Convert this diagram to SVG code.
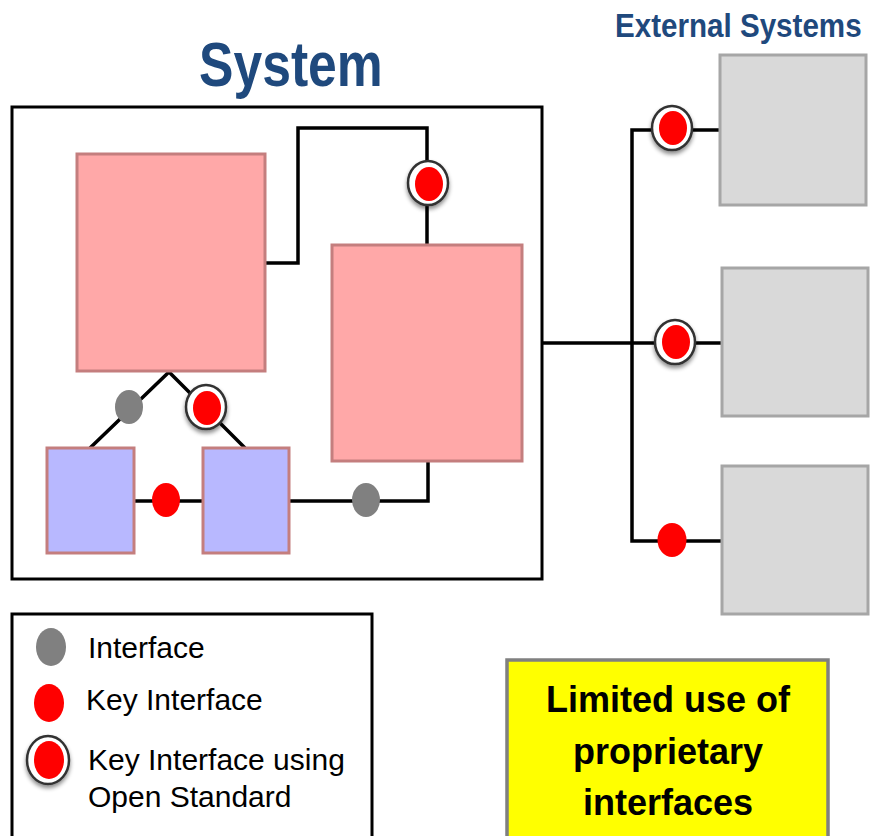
<svg xmlns="http://www.w3.org/2000/svg" width="871" height="836" viewBox="0 0 871 836">
<style>
.pink{fill:#FFA8A8;stroke:#C47E7E;stroke-width:3}
.blue{fill:#B8B8FF;stroke:#C47E7E;stroke-width:3}
.ext{fill:#D9D9D9;stroke:#A6A6A6;stroke-width:3}
.ln{fill:none;stroke:#000;stroke-width:3.5}
.gray{fill:#808080}
.red{fill:#FF0000}
.ring{fill:#FFFFFF;stroke:#333;stroke-width:2.5;filter:url(#sh)}
.title{font-family:"Liberation Sans",Arial,sans-serif;font-weight:bold;fill:#1F497D}
.leg{font-family:"Liberation Sans",Arial,sans-serif;font-size:30px;fill:#000}
.note{font-family:"Liberation Sans",Arial,sans-serif;font-weight:bold;font-size:36px;fill:#000;text-anchor:middle}
</style>
<defs>
<filter id="sh" x="-50%" y="-50%" width="200%" height="200%">
<feDropShadow dx="0" dy="3" stdDeviation="2" flood-color="#000" flood-opacity="0.45"/>
</filter>
</defs>
<text class="title" transform="translate(199,86) scale(0.82,1)" font-size="63">System</text>
<text class="title" transform="translate(615,37) scale(0.87,1)" font-size="34">External Systems</text>
<g id="system">
<rect x="12" y="107" width="530" height="472" fill="#FFFFFF" stroke="#000" stroke-width="3"/>
</g>
<g id="connectors">
<polyline class="ln" points="265,263 298,263 298,128 427,128 427,245"/>
<polyline class="ln" points="90,448 169,372 245,448"/>
<line class="ln" x1="134" y1="501" x2="203" y2="501"/>
<polyline class="ln" points="288,501 428,501 428,461"/>
<line class="ln" x1="542" y1="343" x2="721" y2="343"/>
<polyline class="ln" points="720,130 632,130 632,541 721,541"/>
</g>
<g id="pink1"><rect class="pink" x="77" y="154" width="188" height="217"/></g>
<g id="pink2"><rect class="pink" x="332" y="245" width="190" height="216"/></g>
<g id="blue1"><rect class="blue" x="47" y="448" width="87" height="105"/></g>
<g id="blue2"><rect class="blue" x="203" y="448" width="86" height="105"/></g>
<g id="ext1"><rect class="ext" x="720" y="55" width="146" height="150"/></g>
<g id="ext2"><rect class="ext" x="722" y="268" width="146" height="148"/></g>
<g id="ext3"><rect class="ext" x="722" y="466" width="146" height="148"/></g>
<g id="if-open-top"><ellipse class="ring" cx="428" cy="183" rx="20" ry="22"/><ellipse class="red" cx="429" cy="184" rx="14" ry="17"/></g>
<g id="if-gray-left"><ellipse class="gray" cx="129" cy="407" rx="14" ry="17"/></g>
<g id="if-open-right"><ellipse class="ring" cx="206" cy="407" rx="20" ry="22"/><ellipse class="red" cx="207" cy="408" rx="14" ry="17"/></g>
<g id="if-red-blue"><ellipse class="red" cx="166" cy="500" rx="14" ry="17"/></g>
<g id="if-gray-bottom"><ellipse class="gray" cx="366" cy="500" rx="14" ry="17"/></g>
<g id="if-ext1"><ellipse class="ring" cx="672" cy="128" rx="20" ry="22"/><ellipse class="red" cx="673" cy="128" rx="14" ry="17"/></g>
<g id="if-ext2"><ellipse class="ring" cx="675" cy="342" rx="20" ry="22"/><ellipse class="red" cx="676" cy="342" rx="14" ry="17"/></g>
<g id="if-ext3"><ellipse class="red" cx="672" cy="540" rx="14.5" ry="17"/></g>
<g id="legend">
<rect x="12" y="614" width="360" height="240" fill="#FFFFFF" stroke="#000" stroke-width="3"/>
<ellipse class="gray" cx="51" cy="647" rx="15" ry="19"/>
<text class="leg" x="88" y="658">Interface</text>
<ellipse class="red" cx="49" cy="703" rx="15" ry="19"/>
<text class="leg" x="86" y="710">Key Interface</text>
<ellipse class="ring" cx="48" cy="760" rx="21" ry="24"/>
<ellipse class="red" cx="49" cy="760" rx="15" ry="19"/>
<text class="leg" x="88" y="770">Key Interface using</text>
<text class="leg" x="88" y="807">Open Standard</text>
</g>
<g id="note">
<rect x="507" y="660" width="321" height="200" fill="#FFFF00" stroke="#808080" stroke-width="3.5"/>
<text class="note" x="668" y="712">Limited use of</text>
<text class="note" x="668" y="764">proprietary</text>
<text class="note" x="668" y="815">interfaces</text>
</g>
</svg>
